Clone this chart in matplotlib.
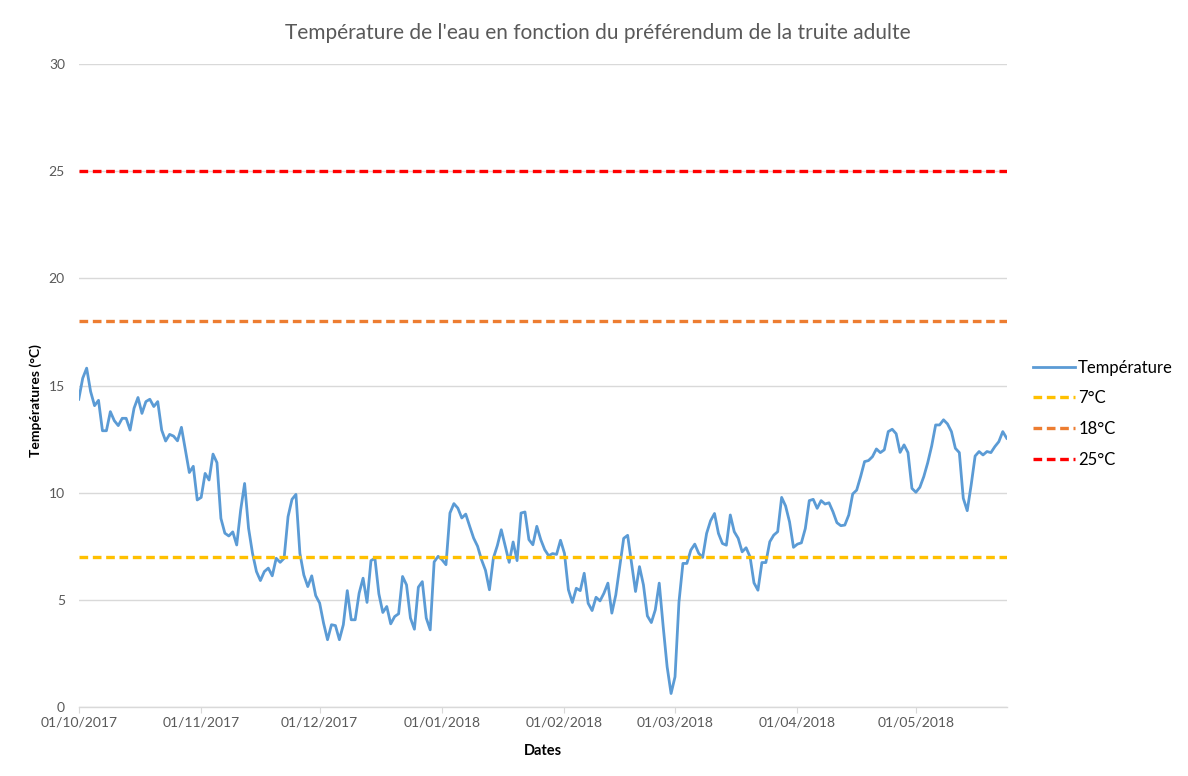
import matplotlib.pyplot as plt
import matplotlib.dates as mdates
import pandas as pd

# Daily water temperature, 01/10/2017 -> 24/05/2018
temperature = [
    14.36, 15.34, 15.81, 14.72, 14.06, 14.31, 12.89, 12.89, 13.78, 13.36,
    13.13, 13.47, 13.47, 12.92, 13.94, 14.44, 13.70, 14.25, 14.36, 14.02,
    14.25, 12.92, 12.41, 12.72, 12.64, 12.42, 13.05, 11.98, 10.94, 11.23,
    9.66, 9.78, 10.90, 10.59, 11.80, 11.40, 8.80, 8.11, 7.98, 8.17,
    7.56, 9.19, 10.43, 8.34, 7.17, 6.32, 5.90, 6.32, 6.48, 6.12,
    6.94, 6.75, 6.94, 8.88, 9.69, 9.92, 7.17, 6.16, 5.62, 6.12,
    5.20, 4.85, 3.91, 3.14, 3.84, 3.80, 3.14, 3.84, 5.43, 4.07,
    4.07, 5.31, 6.01, 4.88, 6.83, 6.94, 5.28, 4.41, 4.69, 3.88,
    4.22, 4.35, 6.09, 5.70, 4.15, 3.63, 5.59, 5.85, 4.15, 3.60,
    6.77, 7.03, 6.87, 6.64, 9.05, 9.49, 9.28, 8.82, 9.00, 8.43,
    7.88, 7.50, 6.87, 6.38, 5.47, 6.95, 7.53, 8.27, 7.50, 6.75,
    7.70, 6.83, 9.05, 9.10, 7.81, 7.57, 8.43, 7.81, 7.34, 7.06,
    7.16, 7.12, 7.78, 7.17, 5.47, 4.88, 5.54, 5.43, 6.24, 4.84,
    4.50, 5.12, 4.95, 5.31, 5.78, 4.38, 5.23, 6.55, 7.87, 8.01,
    6.71, 5.39, 6.55, 5.70, 4.25, 3.94, 4.53, 5.78, 3.76, 1.88,
    0.63, 1.41, 4.90, 6.70, 6.70, 7.32, 7.60, 7.17, 6.98, 8.10,
    8.69, 9.03, 8.10, 7.63, 7.55, 8.96, 8.18, 7.87, 7.24, 7.43,
    7.01, 5.79, 5.45, 6.74, 6.74, 7.71, 8.02, 8.18, 9.78, 9.38,
    8.64, 7.45, 7.60, 7.66, 8.33, 9.63, 9.69, 9.27, 9.63, 9.47,
    9.53, 9.11, 8.60, 8.46, 8.49, 8.96, 9.94, 10.12, 10.75, 11.45,
    11.50, 11.68, 12.04, 11.87, 12.00, 12.85, 12.96, 12.75, 11.88, 12.23,
    11.87, 10.20, 10.02, 10.25, 10.75, 11.40, 12.18, 13.16, 13.16, 13.40,
    13.21, 12.85, 12.07, 11.87, 9.74, 9.16, 10.36, 11.71, 11.92, 11.76,
    11.92, 11.87, 12.15, 12.38, 12.85, 12.54,
]
dates = pd.date_range("2017-10-01", periods=len(temperature), freq="D")

thresholds = [7, 18, 25]
threshold_labels = ["7°C", "18°C", "25°C"]
threshold_colors = ["#FFC000", "#ED7D31", "#FF0000"]

month_ticks = pd.date_range("2017-10-01", "2018-05-01", freq="MS")

plt.rcParams["font.family"] = ["Lato", "DejaVu Sans"]

fig = plt.figure(figsize=(11.88, 7.76), dpi=100)
ax = fig.add_axes([0.0663, 0.0889, 0.7811, 0.8286])

ax.plot(dates, temperature, color="#5B9BD5", linewidth=2.0, label="Température")
for value, label, color in zip(thresholds, threshold_labels, threshold_colors):
    ax.axhline(value, color=color, linewidth=2.4, linestyle=(0, (2.6, 1.4)), label=label)

ax.set_xlim(dates[0], dates[-1])
ax.set_ylim(0, 30)
ax.set_yticks(range(0, 31, 5))
ax.set_xticks(month_ticks)
ax.xaxis.set_major_formatter(mdates.DateFormatter("%d/%m/%Y"))

ax.grid(axis="y", color="#D9D9D9", linewidth=1.0)
ax.set_axisbelow(True)
for side in ["left", "right", "top"]:
    ax.spines[side].set_visible(False)
ax.spines["bottom"].set_color("#D9D9D9")
ax.spines["bottom"].set_linewidth(1.0)

ax.tick_params(axis="y", length=0, pad=10, labelsize=10, labelcolor="#595959")
ax.tick_params(axis="x", length=4, color="#D9D9D9", pad=3, labelsize=10, labelcolor="#595959")

ax.set_ylabel("Températures (°C)", fontsize=10, fontweight="bold", va="center")
ax.yaxis.set_label_coords(-0.046, 0.477)
ax.set_xlabel("Dates", fontsize=10.5, fontweight="bold", labelpad=11)

fig.text(0.503, 0.958, "Température de l'eau en fonction du préférendum de la truite adulte",
         ha="center", va="center", fontsize=15, color="#595959")

fig.legend(loc="upper left", bbox_to_anchor=(0.857, 0.556), frameon=False,
           fontsize=12, handlelength=2.5, labelspacing=0.88, handletextpad=0.2)

fig.savefig("out.png", dpi=100)
